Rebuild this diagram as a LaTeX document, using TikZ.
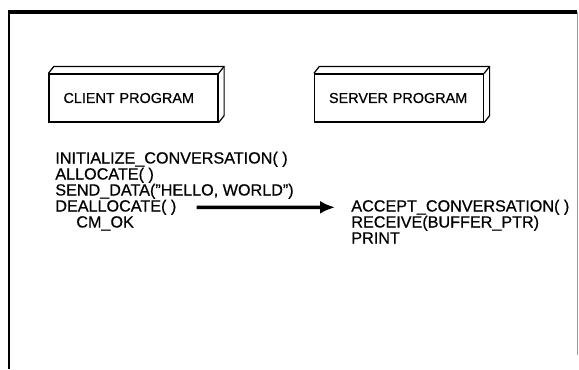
\documentclass[tikz,border=0pt]{standalone}
\usepackage{fontspec}
\setmainfont[FakeBold=0.6]{Liberation Sans}
\usetikzlibrary{arrows.meta}

\tikzset{
	prog/.style={draw, line width=0.7pt, minimum height=0.96cm, text width=2.8cm, inner xsep=0.29cm, inner ysep=0pt, align=left, font=\fontsize{8.2}{9.8}\selectfont},
	call/.style={anchor=base west, inner sep=0pt, font=\fontsize{9.2}{11}\selectfont},
}

\begin{document}
\begin{tikzpicture}
\useasboundingbox (0,0) rectangle (11.58,7.38);

\draw[line width=2.4pt] (0.16,7.14) -- (11.54,7.14);
\draw[line width=0.8pt] (0.18,7.14) -- (0.18,0);
\draw[line width=0.4pt, color=black!40] (11.54,7.14) -- (11.54,0.28);

\node[prog] (client) at (2.67,5.42) {CLIENT PROGRAM};
\node[prog] (server) at (7.98,5.42) {SERVER PROGRAM};

\foreach \p in {client,server}{
	\draw[line width=0.7pt] (\p.north west) -- ++(0.11,0.14) -- ([shift={(0.11,0.14)}]\p.north east) -- ([shift={(0.11,0.14)}]\p.south east) -- (\p.south east);
	\draw[line width=0.7pt] (\p.north east) -- ++(0.11,0.14);
}

\foreach \t [count=\i] in {{INITIALIZE\_CONVERSATION( )},{ALLOCATE( )},{SEND\_DATA("HELLO, WORLD")},{DEALLOCATE( )}}{
	\node[call] (c\i) at (1.10,4.43 - \i*0.32) {\t};
}
\node[call] (ok) at (1.52,2.83) {CM\_OK};

\foreach \t [count=\i] in {{ACCEPT\_CONVERSATION( )},{RECEIVE(BUFFER\_PTR)},{PRINT}}{
	\node[call] (s\i) at (7.02,3.47 - \i*0.32) {\t};
}

\draw[line width=2pt, -{Latex[length=0.3cm,width=0.26cm]}, shorten <=0.4cm, shorten >=0.32cm] (c4.east) -- (s1.west);

\end{tikzpicture}
\end{document}
